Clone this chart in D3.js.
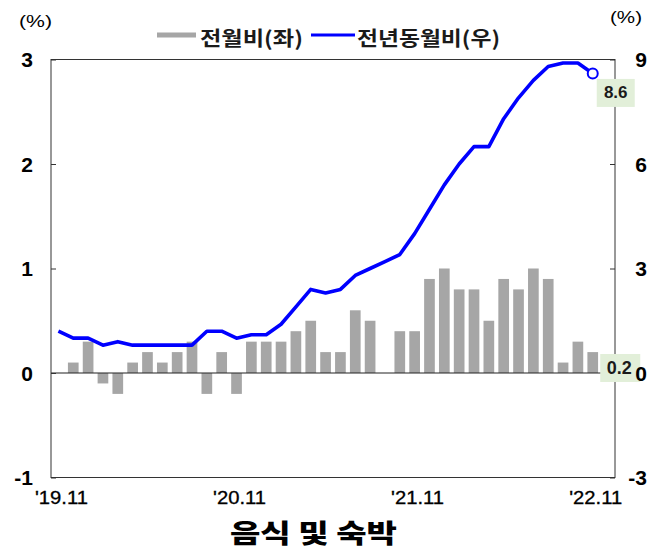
<!DOCTYPE html>
<html>
<head>
<meta charset="utf-8">
<script src="https://cdn.jsdelivr.net/npm/d3@7"></script>
<style>
  html, body { margin: 0; padding: 0; background: #fff; }
  svg { display: block; }
</style>
</head>
<body>
<svg id="chart" width="660" height="549"></svg>
<script>
// ---- data ----
const months = ["19.11","19.12","20.01","20.02","20.03","20.04","20.05","20.06","20.07","20.08","20.09","20.10",
  "20.11","20.12","21.01","21.02","21.03","21.04","21.05","21.06","21.07","21.08","21.09","21.10",
  "21.11","21.12","22.01","22.02","22.03","22.04","22.05","22.06","22.07","22.08","22.09","22.10","22.11"];
const momValues = [0, 0.1, 0.3, -0.1, -0.2, 0.1, 0.2, 0.1, 0.2, 0.3, -0.2, 0.2,
  -0.2, 0.3, 0.3, 0.3, 0.4, 0.5, 0.2, 0.2, 0.6, 0.5, 0, 0.4,
  0.4, 0.9, 1.0, 0.8, 0.8, 0.5, 0.9, 0.8, 1.0, 0.9, 0.1, 0.3, 0.2];
const yoyValues = [1.2, 1.0, 1.0, 0.8, 0.9, 0.8, 0.8, 0.8, 0.8, 0.8, 1.2, 1.2,
  1.0, 1.1, 1.1, 1.4, 1.9, 2.4, 2.3, 2.4, 2.8, 3.0, 3.2, 3.4,
  4.0, 4.7, 5.4, 6.0, 6.5, 6.5, 7.3, 7.9, 8.4, 8.8, 8.9, 8.9, 8.6];
const xTickMonths = ["19.11", "20.11", "21.11", "22.11"];
const leftTicks = [-1, 0, 1, 2, 3];
const rightTicks = [-3, 0, 3, 6, 9];
const legendLabels = ["전월비(좌)", "전년동월비(우)"];
const title = "음식 및 숙박";
const unitLabel = "(%)";

// ---- layout ----
const svg = d3.select("#chart");
const L = 51, R = 615, T = 59.5, B = 477.5;
const step = 14.84;

const x = d3.scaleBand().domain(months).range([L, R - step]).paddingInner(0.28).paddingOuter(0.14);
const yL = d3.scaleLinear().domain([-1, 3]).range([B, T]);
const yR = d3.scaleLinear().domain([-3, 9]).range([B, T]);
const cx = m => x(m) + x.bandwidth() / 2;

const numFont = "'Liberation Sans', Arial, sans-serif";
const krFont = "'Noto Sans CJK KR', 'Noto Sans', sans-serif";

// bars
svg.append("g").selectAll("rect").data(months.map((m, i) => ({m, v: momValues[i]})).filter(d => d.v !== 0))
  .join("rect")
  .attr("x", d => x(d.m))
  .attr("width", x.bandwidth())
  .attr("y", d => yL(Math.max(0, d.v)))
  .attr("height", d => Math.abs(yL(d.v) - yL(0)))
  .attr("fill", "#a6a6a6");

// zero line
svg.append("line").attr("x1", L).attr("x2", R).attr("y1", yL(0)).attr("y2", yL(0))
  .attr("stroke", "#222").attr("stroke-width", 1.2);

// frame
svg.append("rect").attr("x", L).attr("y", T).attr("width", R - L).attr("height", B - T)
  .attr("fill", "none").attr("stroke", "#333").attr("stroke-width", 1);

// axes ticks (inward) via d3 axes
const axL = svg.append("g").attr("transform", `translate(${L},0)`)
  .call(d3.axisRight(yL).tickValues(leftTicks).tickSize(5).tickFormat(""));
axL.select(".domain").remove();
axL.selectAll("line").attr("stroke", "#333");
const axR = svg.append("g").attr("transform", `translate(${R},0)`)
  .call(d3.axisLeft(yR).tickValues(rightTicks).tickSize(5).tickFormat(""));
axR.select(".domain").remove();
axR.selectAll("line").attr("stroke", "#333");

// line
const line = d3.line().x((d, i) => cx(months[i])).y(d => yR(d));
svg.append("path").datum(yoyValues).attr("d", line)
  .attr("fill", "none").attr("stroke", "#0000ff").attr("stroke-width", 3.6)
  .attr("stroke-linejoin", "round");

// last point marker
const lastI = months.length - 1;
svg.append("circle").attr("cx", cx(months[lastI])).attr("cy", yR(yoyValues[lastI])).attr("r", 5)
  .attr("fill", "#fff").attr("stroke", "#0000ff").attr("stroke-width", 2);

// value label boxes
const boxFill = "#e2efd9";
const p8x = cx(months[lastI]) + 4, p8y = yR(yoyValues[lastI]) + 5.5;
svg.append("rect").attr("x", p8x).attr("y", p8y).attr("width", 38).attr("height", 28).attr("fill", boxFill);
svg.append("text").attr("x", p8x + 19).attr("y", p8y + 14).attr("text-anchor", "middle")
  .attr("dominant-baseline", "central").attr("font-family", numFont).attr("font-weight", "bold")
  .attr("font-size", 17).attr("fill", "#1a1a1a").text(yoyValues[lastI].toFixed(1));

const p2x = cx(months[lastI]) + 7.5, p2y = yL(0) - 19;
svg.append("rect").attr("x", p2x).attr("y", p2y).attr("width", 40).attr("height", 28).attr("fill", boxFill);
svg.append("text").attr("x", p2x + 19).attr("y", p2y + 14).attr("text-anchor", "middle")
  .attr("dominant-baseline", "central").attr("font-family", numFont).attr("font-weight", "bold")
  .attr("font-size", 18).attr("fill", "#1a1a1a").text(momValues[lastI].toFixed(1));

// tick labels
svg.append("g").selectAll("text").data(leftTicks).join("text")
  .attr("x", 33).attr("y", d => yL(d)).attr("text-anchor", "end").attr("dominant-baseline", "central")
  .attr("font-family", numFont).attr("font-weight", "bold").attr("font-size", 21).attr("fill", "#000")
  .text(d => d < 0 ? "-" + Math.abs(d) : d);
svg.append("g").selectAll("text").data(rightTicks).join("text")
  .attr("x", 647).attr("y", d => yR(d)).attr("text-anchor", "end").attr("dominant-baseline", "central")
  .attr("font-family", numFont).attr("font-weight", "bold").attr("font-size", 21).attr("fill", "#000")
  .text(d => d < 0 ? "-" + Math.abs(d) : d);

// x labels
svg.append("g").selectAll("text").data(xTickMonths).join("text")
  .attr("x", d => cx(d) + 3).attr("y", 498).attr("text-anchor", "middle").attr("dominant-baseline", "central")
  .attr("font-family", numFont).attr("font-size", 18).attr("fill", "#000")
  .attr("stroke", "#000").attr("stroke-width", 0.3)
  .attr("textLength", 53).attr("lengthAdjust", "spacingAndGlyphs")
  .text(d => "'" + d);

// unit labels
svg.append("text").attr("x", 19).attr("y", 21).attr("dominant-baseline", "central")
  .attr("font-family", numFont).attr("font-size", 16).attr("fill", "#000")
  .attr("textLength", 33).attr("lengthAdjust", "spacingAndGlyphs").text(unitLabel);
svg.append("text").attr("x", 610).attr("y", 17).attr("dominant-baseline", "central")
  .attr("font-family", numFont).attr("font-size", 16).attr("fill", "#000")
  .attr("textLength", 32).attr("lengthAdjust", "spacingAndGlyphs").text(unitLabel);

// legend
const lg = svg.append("g");
lg.append("rect").attr("x", 157).attr("y", 32.5).attr("width", 39).attr("height", 5).attr("fill", "#a6a6a6");
lg.append("text").attr("x", 200).attr("y", 37).attr("dominant-baseline", "central")
  .attr("font-family", krFont).attr("font-weight", "bold").attr("font-size", 20).attr("fill", "#1a1a1a")
  .attr("textLength", 103).attr("lengthAdjust", "spacingAndGlyphs").text(legendLabels[0]);
lg.append("line").attr("x1", 311).attr("x2", 355).attr("y1", 35).attr("y2", 35)
  .attr("stroke", "#0000ff").attr("stroke-width", 3);
lg.append("text").attr("x", 357).attr("y", 37).attr("dominant-baseline", "central")
  .attr("font-family", krFont).attr("font-weight", "bold").attr("font-size", 20).attr("fill", "#1a1a1a")
  .attr("textLength", 143).attr("lengthAdjust", "spacingAndGlyphs").text(legendLabels[1]);

// title
svg.append("text").attr("x", 230).attr("y", 531).attr("dominant-baseline", "central")
  .attr("font-family", krFont).attr("font-weight", "900").attr("font-size", 26).attr("fill", "#000")
  .attr("textLength", 167).attr("lengthAdjust", "spacingAndGlyphs").text(title);
</script>
</body>
</html>
